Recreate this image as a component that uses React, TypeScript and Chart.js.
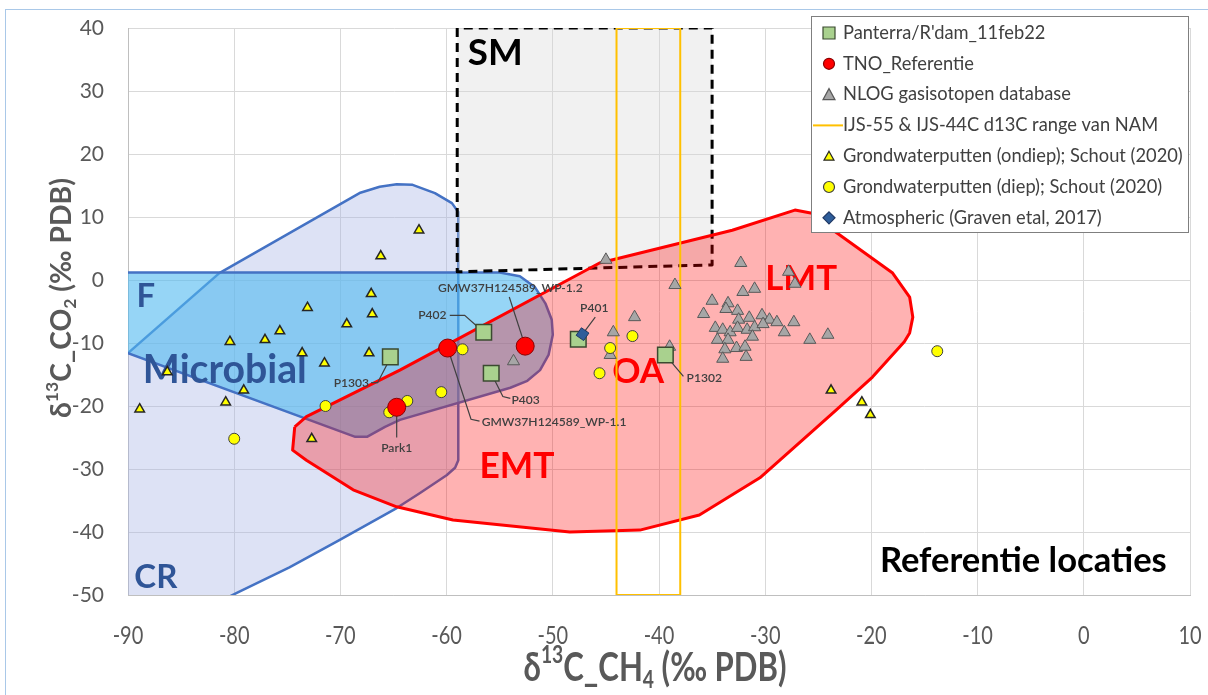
import React, { useEffect, useRef } from 'react';
import { Chart, registerables } from 'chart.js';

Chart.register(...registerables);

// ---------- axis ticks ----------
const xTickValues = [-90, -80, -70, -60, -50, -40, -30, -20, -10, 0, 10];

// ---------- series ----------
const panterraX = [-65.3, -56.5, -55.8, -47.6, -39.4];
const panterraY = [-12.2, -8.3, -14.8, -9.4, -11.9];

const tnoX = [-59.9, -52.6, -64.7];
const tnoY = [-10.8, -10.5, -20.2];

const nlogX = [-45.0, -38.5, -42.3, -44.3, -44.6, -53.7, -39.0, -32.3, -27.8, -27.2, -32.1, -31.0, -35.0, -33.5, -33.7, -32.6, -35.8, -32.5, -31.5, -30.3, -29.6, -28.9, -27.3, -34.7, -34.0, -33.3, -32.6, -31.7, -31.0, -30.2, -28.2, -25.8, -24.1, -34.5, -33.5, -33.8, -32.7, -31.9, -31.2, -34.0, -31.8];
const nlogY = [3.2, -0.8, -5.9, -8.3, -11.9, -12.9, -10.6, 2.7, 1.3, -0.6, -1.9, -1.4, -3.3, -3.7, -4.6, -4.9, -5.4, -6.3, -6.0, -5.6, -6.3, -6.7, -6.7, -7.6, -7.9, -8.3, -7.6, -7.9, -7.5, -7.0, -8.3, -9.5, -8.7, -9.5, -9.5, -11.0, -10.8, -10.6, -9.0, -12.5, -12.2];

const ondiepX = [-62.6, -66.2, -67.1, -67.0, -73.1, -69.4, -75.7, -77.1, -80.4, -73.6, -67.3, -71.5, -86.3, -79.1, -80.8, -88.9, -72.7, -23.8, -20.9, -20.1];
const ondiepY = [7.9, 3.8, -2.2, -5.4, -4.4, -7.0, -8.1, -9.5, -9.8, -11.6, -11.6, -13.2, -14.6, -17.5, -19.4, -20.5, -25.2, -17.5, -19.4, -21.4];

const diepX = [-71.4, -63.7, -65.4, -60.5, -80.0, -58.5, -42.5, -44.6, -45.6, -13.8];
const diepY = [-20.0, -19.2, -21.0, -17.8, -25.2, -11.0, -8.9, -10.8, -14.8, -11.3];

const atmosX = [-47.2];
const atmosY = [-8.6];

// ---------- field outlines (data coordinates) ----------
const crX = [-90.0, -81.4, -68.2, -66.3, -64.7, -63.2, -61.1, -59.5, -58.9, -58.9, -59.2, -60.0, -62.5, -64.7, -70.1, -74.8, -79.8, -81.8, -92, -92];
const crY = [-11.6, 1.1, 13.8, 14.8, 15.2, 15.1, 13.8, 12.2, 10.8, -28.6, -29.8, -31.0, -33.8, -36.2, -41.3, -45.6, -49.7, -51.4, -52, -11.6];

const fX = [-92, -55.0, -53.1, -51.7, -50.7, -50.1, -50.0, -50.4, -51.2, -52.4, -54.0, -64.4, -65.8, -67.5, -68.6, -90.0, -92];
const fY = [1.2, 1.2, 0.6, -1.1, -3.7, -6.3, -8.7, -11.9, -14.3, -16.0, -17.1, -22.2, -23.3, -24.9, -24.9, -11.6, -11.6];

const redX = [-74.3, -73.2, -64.4, -45.6, -33.1, -27.2, -25.6, -23.6, -18.0, -16.4, -16.1, -16.4, -16.9, -19.9, -23.3, -26.5, -30.5, -36.2, -41.8, -48.4, -59.4, -64.7, -68.8, -73.2, -74.5];
const redY = [-23.3, -21.7, -14.3, 2.7, 7.9, 11.1, 10.6, 7.9, 1.1, -2.7, -5.9, -8.4, -9.8, -15.4, -20.6, -25.4, -31.4, -37.3, -39.7, -40.0, -38.1, -36.0, -33.3, -28.6, -27.0];

const smX = [-59, -59, -35, -35];
const smY = [40, 1.3, 2.4, 40];

const ijsX = [-44, -44, -38, -38];
const ijsY = [40, -50, -50, 40];

// ---------- callouts ----------
const leaderLines = [
  [[-67.1, -16.3], [-66.5, -16.3], [-65.3, -12.4]],
  [[-59.7, -5.6], [-58.3, -5.6], [-56.5, -8.3]],
  [[-54.1, -2.7], [-52.6, -10.5]],
  [[-46.0, -5.9], [-47.2, -8.6]],
  [[-54.0, -18.8], [-54.7, -18.5], [-55.8, -14.8]],
  [[-56.9, -22.4], [-57.7, -22.1], [-59.9, -10.8]],
  [[-37.7, -15.3], [-38.4, -13.9], [-39.4, -11.9]],
  [[-64.7, -25.0], [-64.7, -20.2]],
];

const pointLabels = [
  { text: 'P1303', x: -67.3, y: -16.3, align: 'right' },
  { text: 'P402', x: -60.0, y: -5.6, align: 'right' },
  { text: 'GMW37H124589_WP-1.2', x: -54.0, y: -1.3, align: 'center' },
  { text: 'P401', x: -46.1, y: -4.4, align: 'center' },
  { text: 'P403', x: -53.9, y: -19.0, align: 'left' },
  { text: 'GMW37H124589_WP-1.1', x: -56.7, y: -22.5, align: 'left' },
  { text: 'P1302', x: -37.4, y: -15.6, align: 'left' },
  { text: 'Park1', x: -64.7, y: -26.7, align: 'center' },
];

const fieldLabels = [
  { text: 'F', x: -89.2, y: -4.3, w: 0, color: '#2f5597' },
  { text: 'Microbial', x: -88.6, y: -16.3, w: 164, color: '#2f5597' },
  { text: 'CR', x: -89.4, y: -48.9, w: 43, color: '#2f5597' },
  { text: 'SM', x: -58.0, y: 34.1, w: 55, color: '#000000' },
  { text: 'EMT', x: -56.9, y: -31.4, w: 75, color: '#ff0000' },
  { text: 'OA', x: -44.4, y: -16.3, w: 52, color: '#ff0000' },
  { text: 'LMT', x: -30.0, y: -1.6, w: 72, color: '#ff0000' },
  { text: 'Referentie locaties', x: -19.2, y: -46.3, w: 287, color: '#000000' },
];

const legendNames = [
  "Panterra/R'dam_11feb22",
  'TNO_Referentie',
  'NLOG gasisotopen database',
  'IJS-55 & IJS-44C d13C range van NAM',
  'Grondwaterputten (ondiep); Schout (2020)',
  'Grondwaterputten (diep); Schout (2020)',
  'Atmospheric (Graven etal, 2017)',
];

const pts = (xs: number[], ys: number[]) => xs.map((x, i) => ({ x, y: ys[i] }));
const closed = (xs: number[], ys: number[]) => {
  const p = pts(xs, ys);
  return [...p, p[0]];
};

const FONT = 'Lato, "Open Sans", sans-serif';
const RED_INDEX = 3;

function fitSize(ctx: CanvasRenderingContext2D, text: string, weight: string, target: number) {
  ctx.font = `${weight} 20px ${FONT}`;
  const w = ctx.measureText(text).width;
  return (20 * target) / w;
}

type Seg = { t: string; kind: 'm' | 'sup' | 'sub' };
function drawRich(ctx: CanvasRenderingContext2D, segs: Seg[], cx: number, cy: number, main: number, sx: number, target: number) {
  const measure = (m: number) => {
    let tot = 0;
    for (const s of segs) {
      const sz = s.kind === 'm' ? m : m * 0.62;
      ctx.font = `bold ${sz}px ${FONT}`;
      tot += ctx.measureText(s.t).width;
    }
    return tot;
  };
  const w0 = measure(main) * sx;
  const m = (main * target) / w0;
  const tot = measure(m);
  ctx.save();
  ctx.translate(cx, cy);
  ctx.scale(sx, 1);
  let x = -tot / 2;
  ctx.textBaseline = 'middle';
  ctx.textAlign = 'left';
  for (const s of segs) {
    const sz = s.kind === 'm' ? m : m * 0.62;
    ctx.font = `bold ${sz}px ${FONT}`;
    const dy = s.kind === 'sup' ? -m * 0.33 : s.kind === 'sub' ? m * 0.3 : 0;
    ctx.fillText(s.t, x, dy);
    x += ctx.measureText(s.t).width;
  }
  ctx.restore();
}

function drawMarker(ctx: CanvasRenderingContext2D, kind: string, x: number, y: number) {
  ctx.save();
  ctx.lineWidth = 1.2;
  ctx.beginPath();
  if (kind === 'square') {
    ctx.rect(x - 6, y - 6, 12, 12);
    ctx.fillStyle = '#a9d18e';
    ctx.strokeStyle = '#3b4a30';
  } else if (kind === 'redcircle') {
    ctx.arc(x, y, 5.5, 0, Math.PI * 2);
    ctx.fillStyle = '#ff0000';
    ctx.strokeStyle = '#8b0000';
  } else if (kind === 'graytri') {
    ctx.moveTo(x, y - 6);
    ctx.lineTo(x + 6, y + 5);
    ctx.lineTo(x - 6, y + 5);
    ctx.closePath();
    ctx.fillStyle = '#a6a6a6';
    ctx.strokeStyle = '#595959';
  } else if (kind === 'line') {
    ctx.moveTo(x - 16, y);
    ctx.lineTo(x + 14, y);
    ctx.strokeStyle = '#ffc000';
    ctx.lineWidth = 2;
    ctx.stroke();
    ctx.restore();
    return;
  } else if (kind === 'yellowtri') {
    ctx.moveTo(x, y - 5);
    ctx.lineTo(x + 5, y + 4);
    ctx.lineTo(x - 5, y + 4);
    ctx.closePath();
    ctx.fillStyle = '#ffff00';
    ctx.strokeStyle = '#262626';
  } else if (kind === 'yellowcircle') {
    ctx.arc(x, y, 5.5, 0, Math.PI * 2);
    ctx.fillStyle = '#ffff00';
    ctx.strokeStyle = '#404040';
  } else if (kind === 'diamond') {
    ctx.moveTo(x, y - 6);
    ctx.lineTo(x + 6, y);
    ctx.lineTo(x, y + 6);
    ctx.lineTo(x - 6, y);
    ctx.closePath();
    ctx.fillStyle = '#2e5d9a';
    ctx.strokeStyle = '#1f3864';
  }
  ctx.fill();
  ctx.stroke();
  ctx.restore();
}

const legendMarkers = ['square', 'redcircle', 'graytri', 'line', 'yellowtri', 'yellowcircle', 'diamond'];

const overlayPlugin = {
  id: 'overlay',
  afterDatasetDraw(chart: any, args: any) {
    if (args.index !== RED_INDEX) return;
    const ctx: CanvasRenderingContext2D = chart.ctx;
    const xs = chart.scales.x;
    const ys = chart.scales.y;
    ctx.save();
    const crSize = fitSize(ctx, 'CR', 'bold', 43);
    for (const l of fieldLabels) {
      const size = l.w > 0 ? fitSize(ctx, l.text, 'bold', l.w) : crSize;
      ctx.font = `bold ${size}px ${FONT}`;
      ctx.fillStyle = l.color;
      ctx.textAlign = 'left';
      ctx.textBaseline = 'alphabetic';
      ctx.fillText(l.text, xs.getPixelForValue(l.x), ys.getPixelForValue(l.y));
    }
    ctx.restore();
  },
  afterDraw(chart: any) {
    const ctx: CanvasRenderingContext2D = chart.ctx;
    const xs = chart.scales.x;
    ctx.save();

    // point callout labels
    const ys = chart.scales.y;
    const ls = fitSize(ctx, 'GMW37H124589_WP-1.2', '600', 145);
    ctx.font = `600 ${ls}px ${FONT}`;
    ctx.fillStyle = '#404040';
    ctx.textBaseline = 'middle';
    for (const p of pointLabels) {
      ctx.textAlign = p.align as CanvasTextAlign;
      ctx.fillText(p.text, xs.getPixelForValue(p.x), ys.getPixelForValue(p.y));
    }

    // x tick labels (condensed)
    ctx.fillStyle = '#595959';
    ctx.textAlign = 'center';
    ctx.textBaseline = 'middle';
    for (const v of xTickValues) {
      ctx.save();
      ctx.translate(xs.getPixelForValue(v), 636);
      ctx.scale(0.8, 1);
      ctx.font = `25px ${FONT}`;
      ctx.fillText(String(v), 0, 0);
      ctx.restore();
    }

    // axis titles
    ctx.fillStyle = '#595959';
    drawRich(ctx, [
      { t: 'δ', kind: 'm' }, { t: '13', kind: 'sup' }, { t: 'C_CH', kind: 'm' }, { t: '4', kind: 'sub' }, { t: ' (‰ PDB)', kind: 'm' },
    ], 655, 668, 24, 0.78, 263);
    ctx.save();
    ctx.translate(62, 298);
    ctx.rotate(-Math.PI / 2);
    drawRich(ctx, [
      { t: 'δ', kind: 'm' }, { t: '13', kind: 'sup' }, { t: 'C_CO', kind: 'm' }, { t: '2', kind: 'sub' }, { t: ' (‰ PDB)', kind: 'm' },
    ], 0, 0, 22, 1, 240);
    ctx.restore();

    // legend
    const lx = 811, ly = 16, lw = 377, lh = 216;
    ctx.fillStyle = '#ffffff';
    ctx.fillRect(lx, ly, lw, lh);
    ctx.strokeStyle = '#7f7f7f';
    ctx.lineWidth = 1;
    ctx.strokeRect(lx + 0.5, ly + 0.5, lw, lh);
    const fs = fitSize(ctx, legendNames[4], 'normal', 340);
    ctx.font = `${fs}px ${FONT}`;
    ctx.textAlign = 'left';
    ctx.textBaseline = 'middle';
    legendNames.forEach((name, i) => {
      const y = 33 + i * 30.8;
      drawMarker(ctx, legendMarkers[i], 829, y);
      ctx.fillStyle = '#404040';
      ctx.fillText(name, 843, y);
    });
    ctx.restore();
  },
};

export default function App() {
  const ref = useRef<HTMLCanvasElement>(null);
  useEffect(() => {
    const polyBase = { type: 'line', pointRadius: 0, tension: 0, fill: 'shape', borderJoinStyle: 'round' };
    const datasets: any[] = [
      { ...polyBase, label: 'CR', data: closed(crX, crY), borderColor: '#4472c4', borderWidth: 2.5, backgroundColor: 'rgba(165,180,228,0.38)', order: 13 },
      { ...polyBase, label: 'F', data: closed(fX, fY), borderColor: '#4472c4', borderWidth: 2.5, backgroundColor: 'rgba(80,185,240,0.6)', order: 12 },
      { ...polyBase, label: 'SM', data: closed(smX, smY), borderColor: '#000000', borderWidth: 3, borderDash: [9, 6], backgroundColor: 'rgba(215,215,215,0.35)', order: 11 },
      { ...polyBase, label: 'Red', data: closed(redX, redY), borderColor: '#ff0000', borderWidth: 3, backgroundColor: 'rgba(255,0,0,0.3)', order: 10 },
      { ...polyBase, label: 'IJS', data: closed(ijsX, ijsY), borderColor: '#ffc000', borderWidth: 2, fill: false, order: 9 },
      ...leaderLines.map((l, i) => ({
        type: 'line', label: 'leader' + i, data: l.map(([x, y]) => ({ x, y })), borderColor: '#404040', borderWidth: 1.2,
        pointRadius: 0, fill: false, tension: 0, order: 8,
      })),
      { type: 'scatter', label: legendNames[2], data: pts(nlogX, nlogY), pointStyle: 'triangle', pointRadius: 7, backgroundColor: '#a6a6a6', borderColor: '#595959', borderWidth: 1, order: 7 },
      { type: 'scatter', label: legendNames[4], data: pts(ondiepX, ondiepY), pointStyle: 'triangle', pointRadius: 5.5, backgroundColor: '#ffff00', borderColor: '#262626', borderWidth: 1.5, order: 6 },
      { type: 'scatter', label: legendNames[5], data: pts(diepX, diepY), pointStyle: 'circle', pointRadius: 5.5, backgroundColor: '#ffff00', borderColor: '#404040', borderWidth: 1, order: 5 },
      { type: 'scatter', label: legendNames[0], data: pts(panterraX, panterraY), pointStyle: 'rect', pointRadius: 11, backgroundColor: '#a9d18e', borderColor: '#3b4a30', borderWidth: 1.5, order: 4 },
      { type: 'scatter', label: legendNames[1], data: pts(tnoX, tnoY), pointStyle: 'circle', pointRadius: 9, backgroundColor: '#ff0000', borderColor: '#8b0000', borderWidth: 1, order: 3 },
      { type: 'scatter', label: legendNames[6], data: pts(atmosX, atmosY), pointStyle: 'rect', rotation: 35, pointRadius: 6.5, backgroundColor: '#2e5d9a', borderColor: '#1f3864', borderWidth: 1, order: 2 },
    ];
    const chart = new Chart(ref.current as HTMLCanvasElement, {
      type: 'scatter',
      data: { datasets },
      options: {
        animation: false,
        responsive: false,
        maintainAspectRatio: false,
        layout: { autoPadding: false, padding: { left: 0, right: 18, top: 28, bottom: 0 } },
        plugins: { legend: { display: false }, tooltip: { enabled: false } },
        scales: {
          x: {
            type: 'linear', min: -90, max: 10,
            ticks: { display: false, stepSize: 10 },
            grid: { color: '#d9d9d9', drawTicks: false },
            border: { color: '#bfbfbf' },
            afterFit: (s: any) => { s.height = 100; s.paddingLeft = 0; s.paddingRight = 0; },
          },
          y: {
            type: 'linear', min: -50, max: 40,
            ticks: { stepSize: 10, color: '#595959', font: { family: FONT, size: 21 }, padding: 24 },
            grid: { color: '#d9d9d9', drawTicks: false },
            border: { color: '#bfbfbf' },
            afterFit: (s: any) => { s.width = 128; s.paddingTop = 0; s.paddingBottom = 0; },
          },
        },
      } as any,
      plugins: [overlayPlugin as any],
    } as any);
    return () => chart.destroy();
  }, []);
  return (
    <div style={{ position: 'fixed', left: 0, top: 0, width: 1208, height: 695, background: '#ffffff', overflow: 'hidden' }}>
      <canvas ref={ref} width={1208} height={695} style={{ position: 'absolute', left: 0, top: 0, display: 'block' }} />
      <div style={{ position: 'absolute', left: 5, top: 9, right: -4, bottom: -4, borderLeft: '1px solid #a9c8e8', borderTop: '1px solid #a9c8e8', pointerEvents: 'none' }} />
    </div>
  );
}
